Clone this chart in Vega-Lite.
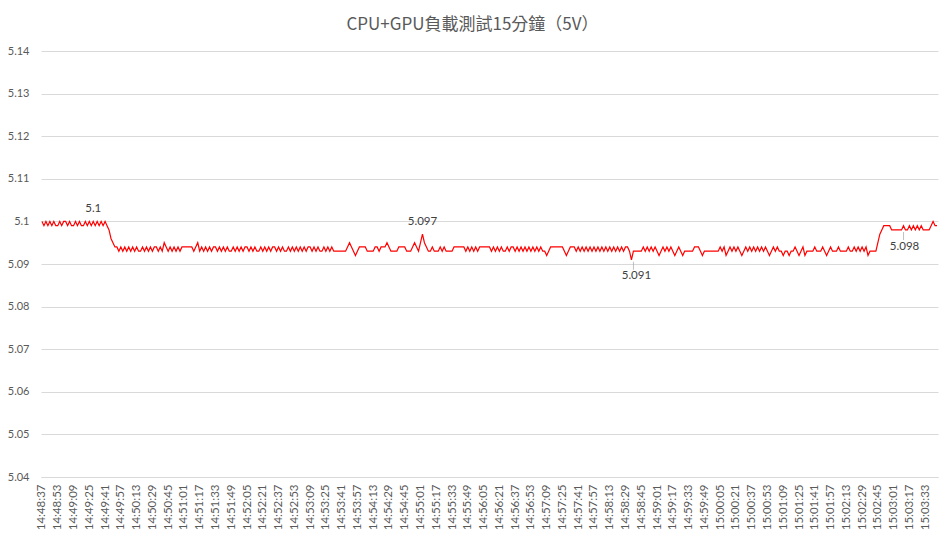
{
"$schema":"https://vega.github.io/schema/vega-lite/v6.json",
"width":897,"height":426,
"autosize":{"type":"none"},
"padding":{"left":41,"top":51,"right":14,"bottom":61},
"background":"white",
"config":{"view":{"stroke":null}},
"title":{"text":"CPU+GPU負載測試15分鐘（5V）","font":"Noto Sans CJK TC","fontSize":17,"fontWeight":"normal","color":"#595959","anchor":"middle","dx":-17,"baseline":"middle","offset":3},
"data":{"values":[
{"t":"14:48:37","v":5.1},{"t":"14:48:39","v":5.099},{"t":"14:48:41","v":5.1},{"t":"14:48:43","v":5.099},{"t":"14:48:45","v":5.1},{"t":"14:48:47","v":5.099},{"t":"14:48:49","v":5.1},{"t":"14:48:51","v":5.099},{"t":"14:48:53","v":5.099},{"t":"14:48:55","v":5.1},{"t":"14:48:57","v":5.099},{"t":"14:48:59","v":5.1},
{"t":"14:49:01","v":5.1},{"t":"14:49:03","v":5.099},{"t":"14:49:05","v":5.1},{"t":"14:49:07","v":5.099},{"t":"14:49:09","v":5.099},{"t":"14:49:11","v":5.1},{"t":"14:49:13","v":5.099},{"t":"14:49:15","v":5.1},{"t":"14:49:17","v":5.099},{"t":"14:49:19","v":5.099},{"t":"14:49:21","v":5.1},{"t":"14:49:23","v":5.099},{"t":"14:49:25","v":5.1},{"t":"14:49:27","v":5.099},{"t":"14:49:29","v":5.1},{"t":"14:49:31","v":5.099},{"t":"14:49:33","v":5.1},{"t":"14:49:35","v":5.099},{"t":"14:49:37","v":5.1},{"t":"14:49:39","v":5.099},{"t":"14:49:41","v":5.1},{"t":"14:49:43","v":5.099},{"t":"14:49:45","v":5.098},{"t":"14:49:47","v":5.096},{"t":"14:49:49","v":5.095},{"t":"14:49:51","v":5.094},{"t":"14:49:53","v":5.094},{"t":"14:49:55","v":5.093},{"t":"14:49:57","v":5.094},{"t":"14:49:59","v":5.093},
{"t":"14:50:01","v":5.094},{"t":"14:50:03","v":5.093},{"t":"14:50:05","v":5.094},{"t":"14:50:07","v":5.093},{"t":"14:50:09","v":5.094},{"t":"14:50:11","v":5.093},{"t":"14:50:13","v":5.094},{"t":"14:50:15","v":5.093},{"t":"14:50:17","v":5.093},{"t":"14:50:19","v":5.094},{"t":"14:50:21","v":5.093},{"t":"14:50:23","v":5.094},{"t":"14:50:25","v":5.093},{"t":"14:50:27","v":5.094},{"t":"14:50:29","v":5.093},{"t":"14:50:31","v":5.094},{"t":"14:50:33","v":5.094},{"t":"14:50:35","v":5.093},{"t":"14:50:37","v":5.094},{"t":"14:50:39","v":5.093},{"t":"14:50:41","v":5.095},{"t":"14:50:43","v":5.094},{"t":"14:50:45","v":5.093},{"t":"14:50:47","v":5.094},{"t":"14:50:49","v":5.093},{"t":"14:50:51","v":5.094},{"t":"14:50:53","v":5.093},{"t":"14:50:55","v":5.094},{"t":"14:50:57","v":5.093},{"t":"14:50:59","v":5.094},
{"t":"14:51:01","v":5.094},{"t":"14:51:03","v":5.094},{"t":"14:51:05","v":5.094},{"t":"14:51:07","v":5.094},{"t":"14:51:09","v":5.094},{"t":"14:51:11","v":5.093},{"t":"14:51:13","v":5.094},{"t":"14:51:15","v":5.095},{"t":"14:51:17","v":5.093},{"t":"14:51:19","v":5.094},{"t":"14:51:21","v":5.093},{"t":"14:51:23","v":5.094},{"t":"14:51:25","v":5.093},{"t":"14:51:27","v":5.094},{"t":"14:51:29","v":5.093},{"t":"14:51:31","v":5.094},{"t":"14:51:33","v":5.094},{"t":"14:51:35","v":5.093},{"t":"14:51:37","v":5.094},{"t":"14:51:39","v":5.093},{"t":"14:51:41","v":5.094},{"t":"14:51:43","v":5.093},{"t":"14:51:45","v":5.094},{"t":"14:51:47","v":5.093},{"t":"14:51:49","v":5.093},{"t":"14:51:51","v":5.094},{"t":"14:51:53","v":5.093},{"t":"14:51:55","v":5.094},{"t":"14:51:57","v":5.093},{"t":"14:51:59","v":5.094},
{"t":"14:52:01","v":5.093},{"t":"14:52:03","v":5.094},{"t":"14:52:05","v":5.094},{"t":"14:52:07","v":5.093},{"t":"14:52:09","v":5.094},{"t":"14:52:11","v":5.093},{"t":"14:52:13","v":5.094},{"t":"14:52:15","v":5.093},{"t":"14:52:17","v":5.093},{"t":"14:52:19","v":5.094},{"t":"14:52:21","v":5.093},{"t":"14:52:23","v":5.094},{"t":"14:52:25","v":5.093},{"t":"14:52:27","v":5.094},{"t":"14:52:29","v":5.093},{"t":"14:52:31","v":5.094},{"t":"14:52:33","v":5.094},{"t":"14:52:35","v":5.093},{"t":"14:52:37","v":5.094},{"t":"14:52:39","v":5.093},{"t":"14:52:41","v":5.094},{"t":"14:52:43","v":5.093},{"t":"14:52:45","v":5.093},{"t":"14:52:47","v":5.094},{"t":"14:52:49","v":5.093},{"t":"14:52:51","v":5.094},{"t":"14:52:53","v":5.093},{"t":"14:52:55","v":5.094},{"t":"14:52:57","v":5.093},{"t":"14:52:59","v":5.094},
{"t":"14:53:01","v":5.093},{"t":"14:53:03","v":5.094},{"t":"14:53:05","v":5.093},{"t":"14:53:07","v":5.094},{"t":"14:53:09","v":5.094},{"t":"14:53:11","v":5.093},{"t":"14:53:13","v":5.094},{"t":"14:53:15","v":5.093},{"t":"14:53:17","v":5.094},{"t":"14:53:19","v":5.093},{"t":"14:53:21","v":5.093},{"t":"14:53:23","v":5.094},{"t":"14:53:25","v":5.093},{"t":"14:53:27","v":5.094},{"t":"14:53:29","v":5.093},{"t":"14:53:31","v":5.094},{"t":"14:53:33","v":5.093},{"t":"14:53:35","v":5.093},{"t":"14:53:37","v":5.093},{"t":"14:53:39","v":5.093},{"t":"14:53:41","v":5.093},{"t":"14:53:43","v":5.093},{"t":"14:53:45","v":5.093},{"t":"14:53:47","v":5.094},{"t":"14:53:49","v":5.095},{"t":"14:53:51","v":5.094},{"t":"14:53:53","v":5.093},{"t":"14:53:55","v":5.092},{"t":"14:53:57","v":5.093},{"t":"14:53:59","v":5.094},
{"t":"14:54:01","v":5.094},{"t":"14:54:03","v":5.094},{"t":"14:54:05","v":5.094},{"t":"14:54:07","v":5.093},{"t":"14:54:09","v":5.093},{"t":"14:54:11","v":5.093},{"t":"14:54:13","v":5.093},{"t":"14:54:15","v":5.094},{"t":"14:54:17","v":5.094},{"t":"14:54:19","v":5.093},{"t":"14:54:21","v":5.094},{"t":"14:54:23","v":5.094},{"t":"14:54:25","v":5.094},{"t":"14:54:27","v":5.095},{"t":"14:54:29","v":5.094},{"t":"14:54:31","v":5.093},{"t":"14:54:33","v":5.093},{"t":"14:54:35","v":5.093},{"t":"14:54:37","v":5.093},{"t":"14:54:39","v":5.094},{"t":"14:54:41","v":5.094},{"t":"14:54:43","v":5.094},{"t":"14:54:45","v":5.094},{"t":"14:54:47","v":5.093},{"t":"14:54:49","v":5.093},{"t":"14:54:51","v":5.093},{"t":"14:54:53","v":5.094},{"t":"14:54:55","v":5.095},{"t":"14:54:57","v":5.094},{"t":"14:54:59","v":5.093},
{"t":"14:55:01","v":5.095},{"t":"14:55:03","v":5.097},{"t":"14:55:05","v":5.095},{"t":"14:55:07","v":5.094},{"t":"14:55:09","v":5.093},{"t":"14:55:11","v":5.093},{"t":"14:55:13","v":5.094},{"t":"14:55:15","v":5.093},{"t":"14:55:17","v":5.093},{"t":"14:55:19","v":5.093},{"t":"14:55:21","v":5.094},{"t":"14:55:23","v":5.093},{"t":"14:55:25","v":5.094},{"t":"14:55:27","v":5.093},{"t":"14:55:29","v":5.093},{"t":"14:55:31","v":5.093},{"t":"14:55:33","v":5.093},{"t":"14:55:35","v":5.094},{"t":"14:55:37","v":5.094},{"t":"14:55:39","v":5.094},{"t":"14:55:41","v":5.094},{"t":"14:55:43","v":5.094},{"t":"14:55:45","v":5.094},{"t":"14:55:47","v":5.093},{"t":"14:55:49","v":5.094},{"t":"14:55:51","v":5.093},{"t":"14:55:53","v":5.094},{"t":"14:55:55","v":5.093},{"t":"14:55:57","v":5.094},{"t":"14:55:59","v":5.093},
{"t":"14:56:01","v":5.094},{"t":"14:56:03","v":5.094},{"t":"14:56:05","v":5.094},{"t":"14:56:07","v":5.094},{"t":"14:56:09","v":5.094},{"t":"14:56:11","v":5.094},{"t":"14:56:13","v":5.093},{"t":"14:56:15","v":5.094},{"t":"14:56:17","v":5.093},{"t":"14:56:19","v":5.094},{"t":"14:56:21","v":5.093},{"t":"14:56:23","v":5.094},{"t":"14:56:25","v":5.093},{"t":"14:56:27","v":5.093},{"t":"14:56:29","v":5.094},{"t":"14:56:31","v":5.093},{"t":"14:56:33","v":5.094},{"t":"14:56:35","v":5.094},{"t":"14:56:37","v":5.093},{"t":"14:56:39","v":5.094},{"t":"14:56:41","v":5.093},{"t":"14:56:43","v":5.094},{"t":"14:56:45","v":5.093},{"t":"14:56:47","v":5.094},{"t":"14:56:49","v":5.093},{"t":"14:56:51","v":5.094},{"t":"14:56:53","v":5.093},{"t":"14:56:55","v":5.094},{"t":"14:56:57","v":5.093},{"t":"14:56:59","v":5.094},
{"t":"14:57:01","v":5.093},{"t":"14:57:03","v":5.094},{"t":"14:57:05","v":5.093},{"t":"14:57:07","v":5.093},{"t":"14:57:09","v":5.092},{"t":"14:57:11","v":5.093},{"t":"14:57:13","v":5.094},{"t":"14:57:15","v":5.094},{"t":"14:57:17","v":5.094},{"t":"14:57:19","v":5.094},{"t":"14:57:21","v":5.094},{"t":"14:57:23","v":5.094},{"t":"14:57:25","v":5.094},{"t":"14:57:27","v":5.093},{"t":"14:57:29","v":5.092},{"t":"14:57:31","v":5.093},{"t":"14:57:33","v":5.094},{"t":"14:57:35","v":5.094},{"t":"14:57:37","v":5.094},{"t":"14:57:39","v":5.093},{"t":"14:57:41","v":5.094},{"t":"14:57:43","v":5.093},{"t":"14:57:45","v":5.094},{"t":"14:57:47","v":5.093},{"t":"14:57:49","v":5.094},{"t":"14:57:51","v":5.093},{"t":"14:57:53","v":5.094},{"t":"14:57:55","v":5.093},{"t":"14:57:57","v":5.094},{"t":"14:57:59","v":5.093},
{"t":"14:58:01","v":5.094},{"t":"14:58:03","v":5.093},{"t":"14:58:05","v":5.094},{"t":"14:58:07","v":5.093},{"t":"14:58:09","v":5.094},{"t":"14:58:11","v":5.093},{"t":"14:58:13","v":5.094},{"t":"14:58:15","v":5.093},{"t":"14:58:17","v":5.094},{"t":"14:58:19","v":5.093},{"t":"14:58:21","v":5.094},{"t":"14:58:23","v":5.093},{"t":"14:58:25","v":5.094},{"t":"14:58:27","v":5.093},{"t":"14:58:29","v":5.094},{"t":"14:58:31","v":5.094},{"t":"14:58:33","v":5.093},{"t":"14:58:35","v":5.091},{"t":"14:58:37","v":5.093},{"t":"14:58:39","v":5.093},{"t":"14:58:41","v":5.093},{"t":"14:58:43","v":5.093},{"t":"14:58:45","v":5.093},{"t":"14:58:47","v":5.094},{"t":"14:58:49","v":5.093},{"t":"14:58:51","v":5.094},{"t":"14:58:53","v":5.093},{"t":"14:58:55","v":5.094},{"t":"14:58:57","v":5.093},{"t":"14:58:59","v":5.094},
{"t":"14:59:01","v":5.093},{"t":"14:59:03","v":5.092},{"t":"14:59:05","v":5.093},{"t":"14:59:07","v":5.094},{"t":"14:59:09","v":5.093},{"t":"14:59:11","v":5.094},{"t":"14:59:13","v":5.093},{"t":"14:59:15","v":5.094},{"t":"14:59:17","v":5.093},{"t":"14:59:19","v":5.092},{"t":"14:59:21","v":5.093},{"t":"14:59:23","v":5.094},{"t":"14:59:25","v":5.093},{"t":"14:59:27","v":5.092},{"t":"14:59:29","v":5.093},{"t":"14:59:31","v":5.093},{"t":"14:59:33","v":5.093},{"t":"14:59:35","v":5.093},{"t":"14:59:37","v":5.093},{"t":"14:59:39","v":5.094},{"t":"14:59:41","v":5.094},{"t":"14:59:43","v":5.094},{"t":"14:59:45","v":5.093},{"t":"14:59:47","v":5.092},{"t":"14:59:49","v":5.093},{"t":"14:59:51","v":5.093},{"t":"14:59:53","v":5.093},{"t":"14:59:55","v":5.093},{"t":"14:59:57","v":5.093},{"t":"14:59:59","v":5.093},
{"t":"15:00:01","v":5.093},{"t":"15:00:03","v":5.093},{"t":"15:00:05","v":5.094},{"t":"15:00:07","v":5.093},{"t":"15:00:09","v":5.094},{"t":"15:00:11","v":5.092},{"t":"15:00:13","v":5.093},{"t":"15:00:15","v":5.094},{"t":"15:00:17","v":5.093},{"t":"15:00:19","v":5.094},{"t":"15:00:21","v":5.093},{"t":"15:00:23","v":5.094},{"t":"15:00:25","v":5.093},{"t":"15:00:27","v":5.092},{"t":"15:00:29","v":5.093},{"t":"15:00:31","v":5.094},{"t":"15:00:33","v":5.093},{"t":"15:00:35","v":5.094},{"t":"15:00:37","v":5.093},{"t":"15:00:39","v":5.094},{"t":"15:00:41","v":5.093},{"t":"15:00:43","v":5.094},{"t":"15:00:45","v":5.093},{"t":"15:00:47","v":5.094},{"t":"15:00:49","v":5.093},{"t":"15:00:51","v":5.094},{"t":"15:00:53","v":5.093},{"t":"15:00:55","v":5.092},{"t":"15:00:57","v":5.093},{"t":"15:00:59","v":5.094},
{"t":"15:01:01","v":5.093},{"t":"15:01:03","v":5.094},{"t":"15:01:05","v":5.093},{"t":"15:01:07","v":5.093},{"t":"15:01:09","v":5.092},{"t":"15:01:11","v":5.093},{"t":"15:01:13","v":5.093},{"t":"15:01:15","v":5.092},{"t":"15:01:17","v":5.093},{"t":"15:01:19","v":5.093},{"t":"15:01:21","v":5.094},{"t":"15:01:23","v":5.093},{"t":"15:01:25","v":5.092},{"t":"15:01:27","v":5.093},{"t":"15:01:29","v":5.094},{"t":"15:01:31","v":5.092},{"t":"15:01:33","v":5.093},{"t":"15:01:35","v":5.093},{"t":"15:01:37","v":5.093},{"t":"15:01:39","v":5.093},{"t":"15:01:41","v":5.094},{"t":"15:01:43","v":5.093},{"t":"15:01:45","v":5.093},{"t":"15:01:47","v":5.093},{"t":"15:01:49","v":5.094},{"t":"15:01:51","v":5.093},{"t":"15:01:53","v":5.092},{"t":"15:01:55","v":5.093},{"t":"15:01:57","v":5.094},{"t":"15:01:59","v":5.093},
{"t":"15:02:01","v":5.093},{"t":"15:02:03","v":5.093},{"t":"15:02:05","v":5.094},{"t":"15:02:07","v":5.093},{"t":"15:02:09","v":5.093},{"t":"15:02:11","v":5.093},{"t":"15:02:13","v":5.093},{"t":"15:02:15","v":5.094},{"t":"15:02:17","v":5.093},{"t":"15:02:19","v":5.093},{"t":"15:02:21","v":5.094},{"t":"15:02:23","v":5.093},{"t":"15:02:25","v":5.094},{"t":"15:02:27","v":5.093},{"t":"15:02:29","v":5.094},{"t":"15:02:31","v":5.093},{"t":"15:02:33","v":5.094},{"t":"15:02:35","v":5.092},{"t":"15:02:37","v":5.093},{"t":"15:02:39","v":5.093},{"t":"15:02:41","v":5.093},{"t":"15:02:43","v":5.093},{"t":"15:02:45","v":5.095},{"t":"15:02:47","v":5.097},{"t":"15:02:49","v":5.098},{"t":"15:02:51","v":5.099},{"t":"15:02:53","v":5.099},{"t":"15:02:55","v":5.099},{"t":"15:02:57","v":5.099},{"t":"15:02:59","v":5.098},
{"t":"15:03:01","v":5.098},{"t":"15:03:03","v":5.098},{"t":"15:03:05","v":5.098},{"t":"15:03:07","v":5.098},{"t":"15:03:09","v":5.098},{"t":"15:03:11","v":5.099},{"t":"15:03:13","v":5.098},{"t":"15:03:15","v":5.098},{"t":"15:03:17","v":5.099},{"t":"15:03:19","v":5.098},{"t":"15:03:21","v":5.099},{"t":"15:03:23","v":5.098},{"t":"15:03:25","v":5.099},{"t":"15:03:27","v":5.098},{"t":"15:03:29","v":5.099},{"t":"15:03:31","v":5.098},{"t":"15:03:33","v":5.098},{"t":"15:03:35","v":5.098},{"t":"15:03:37","v":5.098},{"t":"15:03:39","v":5.099},{"t":"15:03:41","v":5.1},{"t":"15:03:43","v":5.099},{"t":"15:03:45","v":5.099}
]},
"encoding":{
"x":{"field":"t","type":"ordinal","sort":"ascending","scale":{"type":"point","padding":0.5},"title":null,
"axis":{"values":["14:48:37","14:48:53","14:49:09","14:49:25","14:49:41","14:49:57","14:50:13","14:50:29","14:50:45","14:51:01","14:51:17","14:51:33","14:51:49","14:52:05","14:52:21","14:52:37","14:52:53","14:53:09","14:53:25","14:53:41","14:53:57","14:54:13","14:54:29","14:54:45","14:55:01","14:55:17","14:55:33","14:55:49","14:56:05","14:56:21","14:56:37","14:56:53","14:57:09","14:57:25","14:57:41","14:57:57","14:58:13","14:58:29","14:58:45","14:59:01","14:59:17","14:59:33","14:59:49","15:00:05","15:00:21","15:00:37","15:00:53","15:01:09","15:01:25","15:01:41","15:01:57","15:02:13","15:02:29","15:02:45","15:03:01","15:03:17","15:03:33"],
"labelAngle":-90,"labelAlign":"right","labelBaseline":"middle","labelPadding":7,"ticks":false,"grid":false,"domainColor":"#d9d9d9","domainWidth":1,"labelFont":"Lato","labelFontSize":11.5,"labelColor":"#595959","labelOverlap":false}},
"y":{"field":"v","type":"quantitative","title":null,"scale":{"domain":[5.04,5.14],"zero":false,"nice":false},
"axis":{"values":[5.04,5.05,5.06,5.07,5.08,5.09,5.1,5.11,5.12,5.13,5.14],"format":".3~r","ticks":false,"domain":false,"gridColor":"#d9d9d9","gridWidth":1,"labelPadding":12,"labelFont":"Lato","labelFontSize":11,"labelColor":"#595959"}}
},
"layer":[
{"mark":{"type":"line","color":"#ff0000","strokeWidth":1.2,"interpolate":"linear"}},
{"transform":[{"filter":{"field":"t","oneOf":["14:58:35","15:03:09"]}}],
 "mark":{"type":"tick","orient":"vertical","color":"#a6a6a6","size":8,"thickness":1,"yOffset":6,"xOffset":2}},
{"transform":[{"filter":{"field":"t","oneOf":["14:49:29","14:55:03"]}}],
 "mark":{"type":"text","dy":-12,"font":"Lato","fontSize":11.5,"color":"#404040"},
 "encoding":{"text":{"field":"v","type":"nominal"}}},
{"transform":[{"filter":{"field":"t","equal":"14:58:35"}}],
 "mark":{"type":"text","dy":16,"dx":5,"font":"Lato","fontSize":11.5,"color":"#404040"},
 "encoding":{"text":{"field":"v","type":"nominal"}}},
{"transform":[{"filter":{"field":"t","equal":"15:03:09"}}],
 "mark":{"type":"text","dy":17,"dx":3,"font":"Lato","fontSize":11.5,"color":"#404040"},
 "encoding":{"text":{"field":"v","type":"nominal"}}}
]
}
